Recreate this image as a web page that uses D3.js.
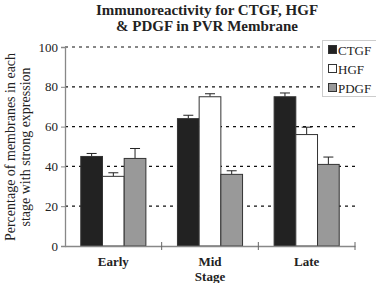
<!DOCTYPE html>
<html><head><meta charset="utf-8">
<script src="https://cdn.jsdelivr.net/npm/d3@7"></script>
<style>body{margin:0;background:#fff}svg{display:block}text{font-family:"Liberation Serif","Times New Roman",serif}</style>
</head><body><svg id="c" width="376" height="283"></svg>
<script>
const categories = ["Early", "Mid", "Late"];
const series = ["CTGF", "HGF", "PDGF"];
const ctgf = [45, 64, 75];
const hgf = [35, 75, 56];
const pdgf = [44, 36, 41];
const ctgfErr = [1.5, 1.7, 1.9];
const hgfErr = [1.8, 1.5, 3.7];
const pdgfErr = [5, 1.8, 3.7];
const yTicks = [0, 20, 40, 60, 80, 100];
const colors = ["#222222", "#ffffff", "#999999"];

const vals = [ctgf, hgf, pdgf], errs = [ctgfErr, hgfErr, pdgfErr];
const svg = d3.select("#c");
const L = 65, R = 355, T = 47, B = 246;
const x = d3.scaleBand().domain(categories).range([L, R]).paddingInner(0).paddingOuter(0);
const y = d3.scaleLinear().domain([0, 100]).range([B, T]);
const bw = 21.7;
const xs = d3.scaleBand().domain(series).range([0, bw * 3]);

// gridlines
svg.append("g").selectAll("line").data(yTicks.filter(d => d > 0)).join("line")
  .attr("x1", L).attr("x2", R).attr("y1", d => y(d)).attr("y2", d => y(d))
  .attr("stroke", "#111").attr("stroke-width", 1.2).attr("stroke-dasharray", "3,4");

// legend box
const lg = svg.append("g");
lg.append("rect").attr("x", 322.5).attr("y", 40.5).attr("width", 60).attr("height", 56)
  .attr("fill", "#fff").attr("stroke", "#ccc");
series.forEach((s, i) => {
  const yy = 50 + i * 19;
  lg.append("rect").attr("x", 328.5).attr("y", yy - 4.5).attr("width", 8).attr("height", 8)
    .attr("fill", colors[i]).attr("stroke", "#333");
  lg.append("text").attr("x", 338).attr("y", yy + 4.5).attr("font-size", 13).attr("fill", "#222").text(s);
});

// bars
series.forEach((s, si) => {
  const g = svg.append("g");
  categories.forEach((c, ci) => {
    const x0 = x(c) + (x.bandwidth() - bw * 3) / 2 + xs(s);
    const v = vals[si][ci], e = errs[si][ci];
    const cx = x0 + bw / 2;
    g.append("line").attr("x1", cx).attr("x2", cx).attr("y1", y(v)).attr("y2", y(v + e)).attr("stroke", "#222");
    g.append("line").attr("x1", cx - 5).attr("x2", cx + 5).attr("y1", y(v + e)).attr("y2", y(v + e)).attr("stroke", "#222");
    g.append("rect").attr("x", x0).attr("y", y(v)).attr("width", bw).attr("height", y(0) - y(v))
      .attr("fill", colors[si]).attr("stroke", "#333").attr("stroke-width", 1);
  });
});

// y axis
const ya = svg.append("g").attr("transform", `translate(${L},0)`)
  .call(d3.axisLeft(y).tickValues(yTicks).tickSize(4).tickPadding(3));
ya.select(".domain").attr("stroke", "#888").attr("stroke-width", 1.3);
ya.selectAll(".tick line").attr("stroke", "#888");
ya.selectAll("text").attr("font-size", 13).attr("fill", "#222").attr("font-family", "Liberation Serif, serif");

// x axis
const xa = svg.append("g").attr("transform", `translate(0,${B})`)
  .call(d3.axisBottom(x).tickSize(0).tickFormat(""));
xa.select(".domain").attr("stroke", "#888").attr("stroke-width", 1.3);
xa.selectAll(".tick").remove();
categories.forEach((c, i) => {
  const xx = x(c) + x.bandwidth();
  svg.append("line").attr("x1", xx).attr("x2", xx).attr("y1", B - 4).attr("y2", B + 4).attr("stroke", "#666");
});
categories.forEach(c => {
  svg.append("text").attr("x", x(c) + x.bandwidth() / 2).attr("y", 266).attr("text-anchor", "middle")
    .attr("font-size", 13).attr("font-weight", "bold").attr("fill", "#222").text(c);
});
svg.append("text").attr("x", x("Mid") + x.bandwidth() / 2).attr("y", 281).attr("text-anchor", "middle")
  .attr("font-size", 13).attr("font-weight", "bold").attr("fill", "#222").text("Stage");

// y title
const yt = svg.append("text").attr("transform", "translate(15,147) rotate(-90)")
  .attr("text-anchor", "middle").attr("font-size", 14).attr("fill", "#222");
yt.append("tspan").attr("x", 0).attr("dy", 0).text("Percentage of membranes in each");
yt.append("tspan").attr("x", 0).attr("dy", 15).text("stage with strong expression");

// title
const tt = svg.append("text").attr("x", 207).attr("y", 15).attr("text-anchor", "middle")
  .attr("font-size", 15).attr("font-weight", "bold").attr("fill", "#222");
tt.append("tspan").attr("x", 207).text("Immunoreactivity for CTGF, HGF");
tt.append("tspan").attr("x", 207).attr("dy", 15.5).text("& PDGF in PVR Membrane");
</script></body></html>
